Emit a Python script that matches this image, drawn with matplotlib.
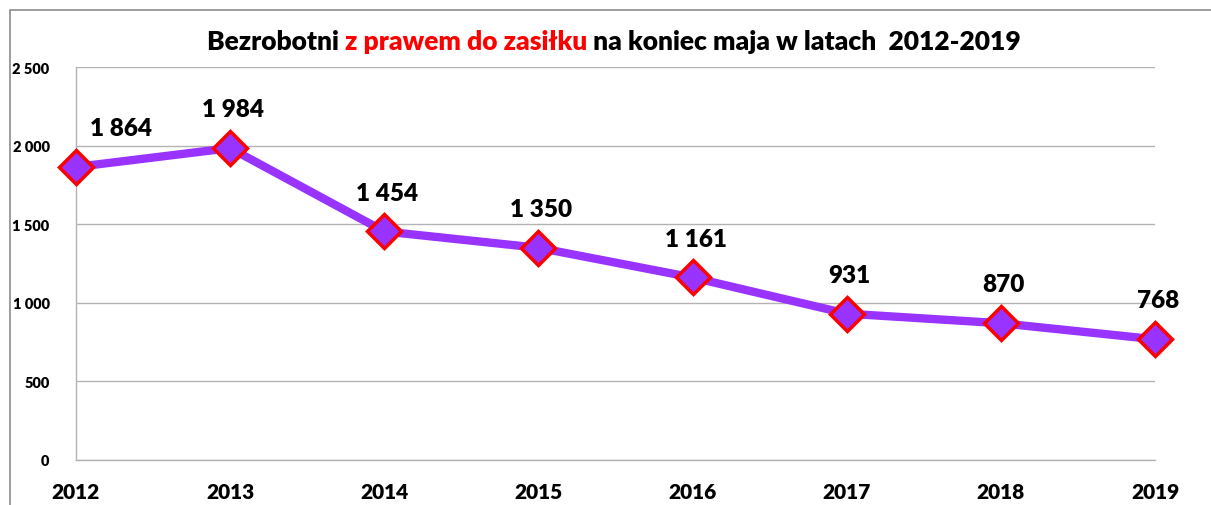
import matplotlib
matplotlib.use("Agg")
import matplotlib.pyplot as plt
from matplotlib.patches import Rectangle
from matplotlib.offsetbox import TextArea, HPacker, AnchoredOffsetbox

years = ["2012", "2013", "2014", "2015", "2016", "2017", "2018", "2019"]
values = [1864, 1984, 1454, 1350, 1161, 931, 870, 768]
yticks = [0, 500, 1000, 1500, 2000, 2500]
ytick_labels = ["0", "500", "1 000", "1 500", "2 000", "2 500"]

FONT = ["Lato", "DejaVu Sans"]
plt.rcParams['font.family'] = FONT

fig = plt.figure(figsize=(12.11, 5.06), dpi=100)
fig.patches.append(Rectangle((10/1211, -0.1), 1.2, (506-11)/506 + 0.1, transform=fig.transFigure,
                             fill=False, edgecolor="#8c8c8c", linewidth=1.2))

ax = fig.add_axes([76/1211, 1-461/506, (1155-76)/1211, (461-68)/506])
x = list(range(len(years)))
ax.plot(x, values, color="#9933FF", linewidth=6, marker="D", markersize=17,
        markerfacecolor="#9933FF", markeredgecolor="#FF0000", markeredgewidth=2.5,
        zorder=5, clip_on=False, solid_capstyle="butt")

ax.set_xlim(0, len(years) - 1)
ax.set_ylim(0, 2500)
ax.set_yticks(yticks)
ax.set_yticklabels(ytick_labels, fontsize=10.5, fontweight="heavy")
ax.set_xticks(x)
ax.set_xticklabels(years, fontsize=15, fontweight="heavy")
ax.tick_params(axis="both", length=0)
ax.tick_params(axis="y", pad=19)
ax.tick_params(axis="x", pad=16)
ax.grid(axis="y", color="#b3b3b3", linewidth=1)
ax.set_axisbelow(True)
for s in ["top", "right"]:
    ax.spines[s].set_visible(False)
for s in ["left", "bottom"]:
    ax.spines[s].set_color("#b3b3b3")
    ax.spines[s].set_linewidth(1)

def fmt(v):
    return f"{v:,}".replace(",", " ")

for i, v in enumerate(values):
    dx = 45 if i == 0 else 3
    ax.annotate(fmt(v), (i, v), xytext=(dx * 0.72, 28), textcoords="offset points",
                ha="center", va="center", fontsize=17.5, fontweight="heavy", zorder=6)

# Title with red part
parts = [("Bezrobotni ", "black"), ("z prawem do zasiłku", "#FF0000"),
         (" na koniec maja w latach  2012-2019", "black")]
boxes = [TextArea(t, textprops=dict(color=c, fontsize=19, fontweight="heavy", family=FONT))
         for t, c in parts]
pack = HPacker(children=boxes, align="baseline", pad=0, sep=0)
anch = AnchoredOffsetbox(loc="center", child=pack, pad=0, frameon=False,
                         bbox_to_anchor=(614/1211, 1-42/506), bbox_transform=fig.transFigure,
                         borderpad=0)
fig.add_artist(anch)

fig.savefig("out.png", dpi=100)
